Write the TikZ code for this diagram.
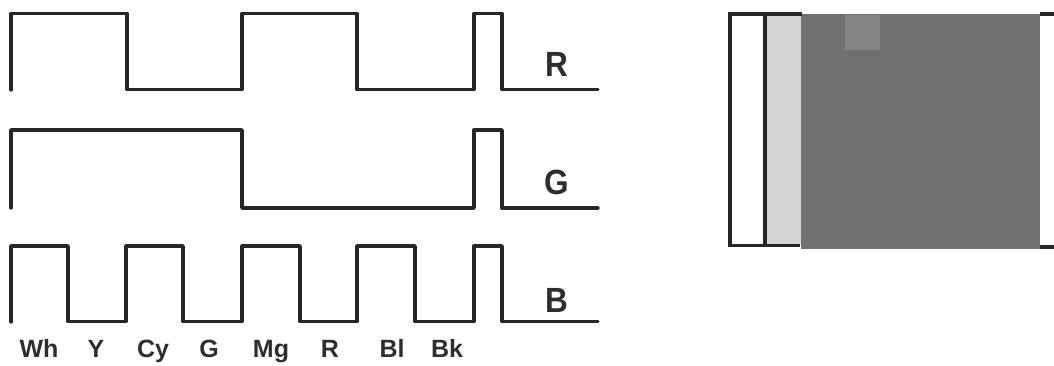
\documentclass[tikz,border=0pt]{standalone}
\usepackage{fontspec}
\setmainfont{Liberation Sans}
\newfontfamily\chanfont[FakeStretch=0.9]{Liberation Sans Bold}
\newfontfamily\barfont{Liberation Sans Bold}
\begin{document}
\begin{tikzpicture}[x=1pt,y=-1pt,
  wave/.style={line width=3.4pt,draw=black!85,line join=round,line cap=round},
  edge/.style={line width=3.2pt,draw=black!85,line cap=butt},
  chan/.style={font=\chanfont\fontsize{35}{35}\selectfont,text=black!82,inner sep=0pt,anchor=base},
  bar/.style={font=\barfont\fontsize{25}{25}\selectfont,text=black!82,inner sep=0pt,anchor=base}]
\useasboundingbox (0,0) rectangle (1054,366);
% R waveform
\draw[wave] (11,90) -- (11,13.5) -- (127,13.5) -- (127,89.5) -- (242,89.5) -- (242,13.5)
  -- (357,13.5) -- (357,89.5) -- (474,89.5) -- (474,13.5) -- (502,13.5) -- (502,89.5) -- (598,89.5);
% G waveform
\draw[wave] (11,208) -- (11,130) -- (242,130) -- (242,208) -- (474,208) -- (474,130)
  -- (502,130) -- (502,208) -- (598,208);
% B waveform
\draw[wave] (11,322) -- (11,246) -- (68,246) -- (68,321.5) -- (126,321.5) -- (126,246)
  -- (183,246) -- (183,321.5) -- (242,321.5) -- (242,246) -- (300,246) -- (300,321.5)
  -- (357,321.5) -- (357,246) -- (415,246) -- (415,321.5) -- (474,321.5) -- (474,246)
  -- (502,246) -- (502,321.5) -- (598,321.5);
% channel labels
\node[chan] (lR) at (557,77) {R};
\node[chan] (lG) at (557,195) {G};
\node[chan] (lB) at (557,312) {B};
% bar labels
\node[bar] (wh) at (39,357) {Wh};
\node[bar] (ye) at (96,357) {Y};
\node[bar] (cy) at (153,357) {Cy};
\node[bar] (gr) at (209,357) {G};
\node[bar] (mg) at (271,357) {Mg};
\node[bar] (re) at (330,357) {R};
\node[bar] (bl) at (392,357) {Bl};
\node[bar] (bk) at (447,357) {Bk};
% right panel: screen picture
\fill[black!56] (801,14) rectangle (1040,248.5);
\fill[black!48] (845,15) rectangle (880,50);
\fill[black!17] (765,14) rectangle (801,245);
\draw[edge] (730,14) -- (802,14);
\draw[edge] (1040,14) -- (1054,14);
\draw[edge] (1040,247) -- (1054,247);
\draw[edge] (730,245.5) -- (800,245.5);
\draw[edge] (730,12.4) -- (730,247.1);
\draw[edge] (765,12.4) -- (765,247.1);
\end{tikzpicture}
\end{document}
